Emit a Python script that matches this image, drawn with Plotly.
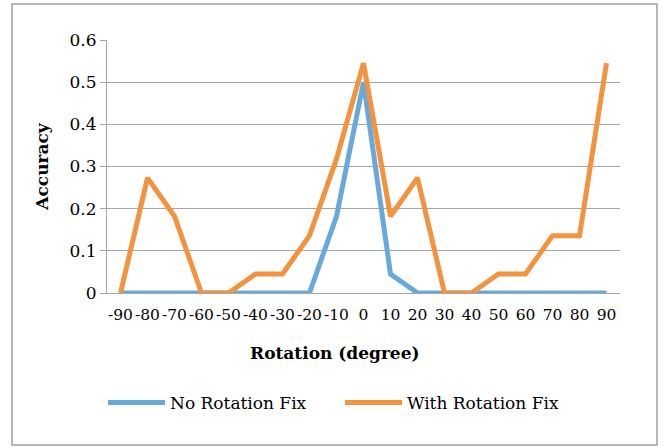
import plotly.graph_objects as go

rotation = ["-90", "-80", "-70", "-60", "-50", "-40", "-30", "-20", "-10", "0",
            "10", "20", "30", "40", "50", "60", "70", "80", "90"]
no_fix = [0, 0, 0, 0, 0, 0, 0, 0, 0.182, 0.5,
          0.045, 0, 0, 0, 0, 0, 0, 0, 0]
with_fix = [0, 0.273, 0.182, 0, 0, 0.045, 0.045, 0.136, 0.318, 0.545,
            0.182, 0.273, 0, 0, 0.045, 0.045, 0.136, 0.136, 0.545]

W, H = 670, 447
ML, MR, MT, MB = 107, 50, 40, 154
pw, ph = W - ML - MR, H - MT - MB

FONT = "DejaVu Serif"
GRID = "#A6A6A6"

def px_x(x):
    return (x - ML) / pw

def px_y(y):
    return (H - MB - y) / ph

fig = go.Figure()
fig.add_trace(go.Scatter(x=rotation, y=no_fix, mode="lines", name="No Rotation Fix",
                         line=dict(color="#68A9DB", width=5)))
fig.add_trace(go.Scatter(x=rotation, y=with_fix, mode="lines", name="With Rotation Fix",
                         line=dict(color="#F39340", width=5)))

# outer chart border
fig.add_shape(type="rect", xref="paper", yref="paper",
              x0=px_x(12), x1=px_x(657), y0=px_y(445), y1=px_y(4),
              line=dict(color="#A0A0A0", width=1.5), fillcolor="rgba(0,0,0,0)", layer="below")

# x-axis title centred on the chart area
fig.add_annotation(text="<b>Rotation (degree)</b>", xref="paper", yref="paper",
                   x=px_x(335), y=px_y(353), xanchor="center", yanchor="middle",
                   showarrow=False, font=dict(family=FONT, size=17, color="black"))

fig.update_layout(
    width=W, height=H,
    margin=dict(l=ML, r=MR, t=MT, b=MB, autoexpand=False),
    paper_bgcolor="white", plot_bgcolor="white",
    font=dict(family=FONT, size=17, color="black"),
    xaxis=dict(type="category", range=[-0.5, 18.5], showgrid=False,
               showline=True, linecolor=GRID, linewidth=1,
               ticks="", tickfont=dict(family=FONT, size=15.5), tickangle=0, automargin=False,
               ticklabelstandoff=7),
    yaxis=dict(range=[0, 0.6], dtick=0.1, automargin=False,
               showgrid=True, gridcolor=GRID, gridwidth=1,
               showline=True, linecolor=GRID, linewidth=1,
               ticks="outside", ticklen=6, tickcolor=GRID,
               zeroline=False, tickfont=dict(family=FONT, size=17),
               title=dict(text="<b>Accuracy</b>", font=dict(family=FONT, size=17), standoff=16)),
    legend=dict(orientation="h", x=px_x(103), xanchor="left", y=px_y(403), yanchor="middle",
                font=dict(family=FONT, size=17), itemwidth=57, traceorder="normal",
                entrywidth=165, entrywidthmode="pixels",
                bgcolor="rgba(0,0,0,0)"),
    showlegend=True,
)

fig.write_html("out.html")
